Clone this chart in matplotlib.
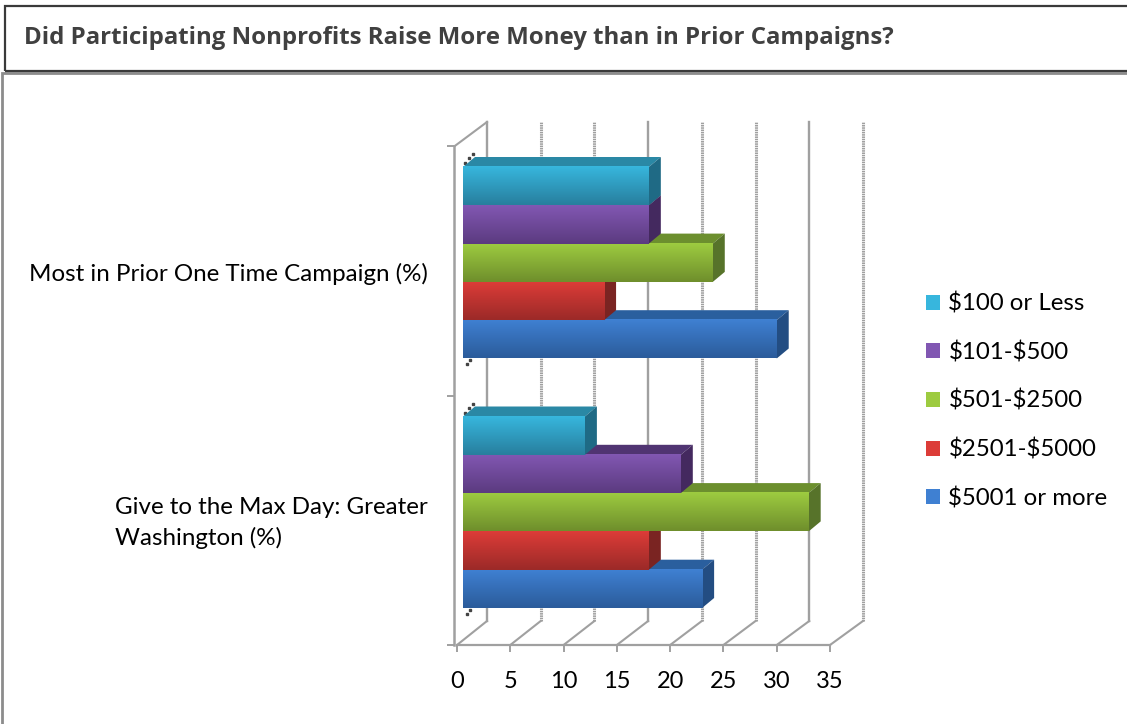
import matplotlib
matplotlib.use('Agg')
import matplotlib.pyplot as plt
import numpy as np
from matplotlib.patches import Polygon, Rectangle
from matplotlib.colors import LinearSegmentedColormap

plt.rcParams['font.family'] = ['Lato', 'DejaVu Sans']
plt.rcParams['text.parse_math'] = False

title = 'Did Participating Nonprofits Raise More Money than in Prior Campaigns?'
categories = ['Give to the Max Day: Greater\nWashington (%)', 'Most in Prior One Time Campaign (%)']
series = ['$5001 or more', '$2501-$5000', '$501-$2500', '$101-$500', '$100 or Less']
# one value per category, same order as categories
v_5001 = [23, 30]
v_2501 = [18, 13.8]
v_501 = [33, 24]
v_101 = [21, 18]
v_100 = [12, 18]
values = [v_5001, v_2501, v_501, v_101, v_100]

light = ['#3f80d2', '#dc3c38', '#9dcb40', '#8157b2', '#37b6dd']
dark = ['#2b5c9b', '#9c2a28', '#6f8f2c', '#5c3b80', '#287f9e']
top_c = ['#2a5f9e', '#8c2a28', '#6c8f2e', '#503472', '#2a88a5']
side_c = ['#234d82', '#7a2422', '#57732a', '#44295f', '#1f6a85']

W, H = 1127, 724
fig = plt.figure(figsize=(W / 100, H / 100), dpi=100)
fig.patch.set_facecolor('white')


def fig_box(x0, y0, x1, y1, **kw):
    # pixel box, measured from the top left
    fig.add_artist(Rectangle((x0 / W, 1 - y1 / H), (x1 - x0) / W, (y1 - y0) / H,
                             transform=fig.transFigure, fill=False, **kw))


fig_box(2, 73, 1140, 740, edgecolor='#8c8c8c', linewidth=2)
fig_box(5, 6, 1140, 71, edgecolor='#3a3a3a', linewidth=1.6, facecolor='white')
fig.text(24 / W, 1 - 38 / H, title, family=['Open Sans', 'DejaVu Sans'], fontsize=17.25, fontweight='bold',
         color='#404040', va='center')

ax = fig.add_axes([457 / W, 1 - 645 / H, 373 / W, 499 / H])
ax.set_xlim(0, 35)
ax.set_ylim(0, 2)
ax.patch.set_alpha(0)

px_x = 35 / 373
px_y = 2 / 499
wall_dx, wall_dy = 30 * px_x, 24 * px_y
bar_dx, bar_dy = 12 * px_x, 10 * px_y
base = 6 * px_x
bar_h = 38.3 * px_y
shift = 8 * px_y

ticks = np.arange(0, 36, 5)
grid = '#a0a0a0'
# some wall lines are stippled in the original
stippled = [5, 10, 20, 25, 35]
for t in ticks:
    back = t * 1.008 + wall_dx
    ax.plot([t, back], [0, wall_dy], color=grid, lw=1.5, clip_on=False, zorder=1)
    if t in stippled:
        ax.plot([back, back], [wall_dy, 2 + wall_dy], color=grid, lw=2.2, ls=(0, (0.5, 0.25)), clip_on=False, zorder=1)
    else:
        ax.plot([back, back], [wall_dy, 2 + wall_dy], color=grid, lw=1.7, clip_on=False, zorder=1)
ax.plot([-2.2 * px_x, wall_dx], [2, 2 + wall_dy], color=grid, lw=1.5, clip_on=False, zorder=1)

z = 3
for i, cat in enumerate(categories):
    centre = i + 0.5 + shift
    for j, name in enumerate(series):
        v = values[j][i]
        y0 = centre + (j - 2) * bar_h - bar_h / 2
        y1 = y0 + bar_h
        ax.add_patch(Polygon([(base, y1), (base + bar_dx, y1 + bar_dy), (v + bar_dx, y1 + bar_dy), (v, y1)],
                             facecolor=top_c[j], edgecolor='none', clip_on=False, zorder=z))
        ax.add_patch(Polygon([(v, y0), (v + bar_dx, y0 + bar_dy), (v + bar_dx, y1 + bar_dy), (v, y1)],
                             facecolor=side_c[j], edgecolor='none', clip_on=False, zorder=z))
        cmap = LinearSegmentedColormap.from_list('bar', [dark[j], light[j]])
        ax.imshow(np.linspace(1, 0, 32).reshape(-1, 1), cmap=cmap, extent=(base, v, y0, y1),
                  aspect='auto', interpolation='bilinear', clip_on=False, zorder=z + 0.5)
        z += 1
    # dark specks at the corners of each bar group
    low = centre - 2.5 * bar_h
    high = centre + 2.5 * bar_h
    ax.plot([base + 2 * px_x, base + 6 * px_x, base + 10 * px_x], [high + 4 * px_y, high + 9 * px_y, high + 13 * px_y],
            ls='none', marker='s', ms=1.5, color='#444444', clip_on=False, zorder=2)
    ax.plot([base + 4 * px_x, base + 7 * px_x], [low - 6 * px_y, low - 2 * px_y],
            ls='none', marker='s', ms=1.5, color='#444444', clip_on=False, zorder=2)

ax.set_xlim(0, 35)
ax.set_ylim(0, 2)

for s in ['top', 'right']:
    ax.spines[s].set_visible(False)
ax.spines['bottom'].set_color(grid)
ax.spines['bottom'].set_linewidth(1.6)
ax.spines['left'].set_color(grid)
ax.spines['left'].set_linewidth(1.8)
ax.spines['left'].set_position(('outward', 2.2))

ax.set_xticks(ticks)
ax.tick_params(axis='x', length=5, width=1.4, color=grid, labelsize=17, pad=13.5, labelcolor='black')
ax.set_yticks([0, 1, 2])
ax.set_yticklabels([])
ax.tick_params(axis='y', which='major', length=5, width=1.4, color=grid)
ax.set_yticks([0.515, 1.495], minor=True)
ax.set_yticklabels(categories, minor=True, fontsize=17.4, color='black', linespacing=1.5)
ax.tick_params(axis='y', which='minor', length=0, pad=19)
for lab in ax.get_yticklabels(minor=True):
    lab.set_multialignment('left')

handles = [Rectangle((0, 0), 1, 1, facecolor=(light[j]), edgecolor='none') for j in range(5)][::-1]
fig.legend(handles, series[::-1], loc='center left', bbox_to_anchor=(904 / W, 1 - 401 / H), frameon=False,
           fontsize=17.3, handlelength=0.58, handleheight=0.58, handletextpad=0.37, labelspacing=1.11)

fig.savefig('out.png', dpi=100)
